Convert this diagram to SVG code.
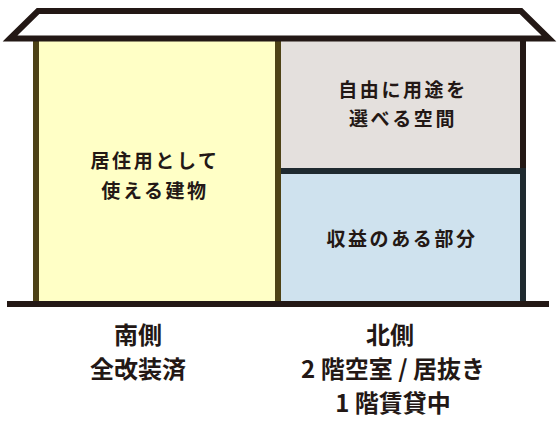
<svg xmlns="http://www.w3.org/2000/svg" width="560" height="430" viewBox="0 0 560 430">
<style>
.t{font-family:"Noto Sans CJK JP","Noto Sans",sans-serif;fill:#231815;text-anchor:middle}
.in{font-size:19px;font-weight:700;letter-spacing:2.6px}
.lb{font-size:24px;font-weight:700}
.dk{stroke:#231815;stroke-width:6}
</style>
<rect width="560" height="430" fill="#fff"/>
<g id="north-upper"><rect x="278" y="38" width="245" height="133" fill="#e4e0dd" class="dk"/>
<text class="t in" x="403" y="97">自由に用途を</text>
<text class="t in" x="403" y="126">選べる空間</text></g>
<g id="north-lower"><rect x="278" y="171" width="245" height="133" fill="#cfe2ee" stroke="#1f2a30" stroke-width="6"/>
<text class="t in" x="402" y="246">収益のある部分</text></g>
<g id="south"><rect x="36" y="38" width="242" height="266" fill="#ffffc6" stroke="#4d4215" stroke-width="6"/>
<text class="t in" x="155" y="168">居住用として</text>
<text class="t in" x="155" y="198">使える建物</text></g>
<g id="ground"><line x1="7" y1="304" x2="549" y2="304" class="dk"/></g>
<g id="roof"><path d="M10,38.5 L38,11 L521,11 L549,38.5 Z" fill="#fff" class="dk" stroke-linejoin="miter"/></g>
<g id="labels">
<text class="t lb" x="138" y="344">南側</text>
<text class="t lb" x="138" y="378">全改装済</text>
<text class="t lb" x="390" y="344">北側</text>
<text class="t lb" x="393" y="378">2 階空室 / 居抜き</text>
<text class="t lb" x="393" y="412">1 階賃貸中</text>
</g>
</svg>
